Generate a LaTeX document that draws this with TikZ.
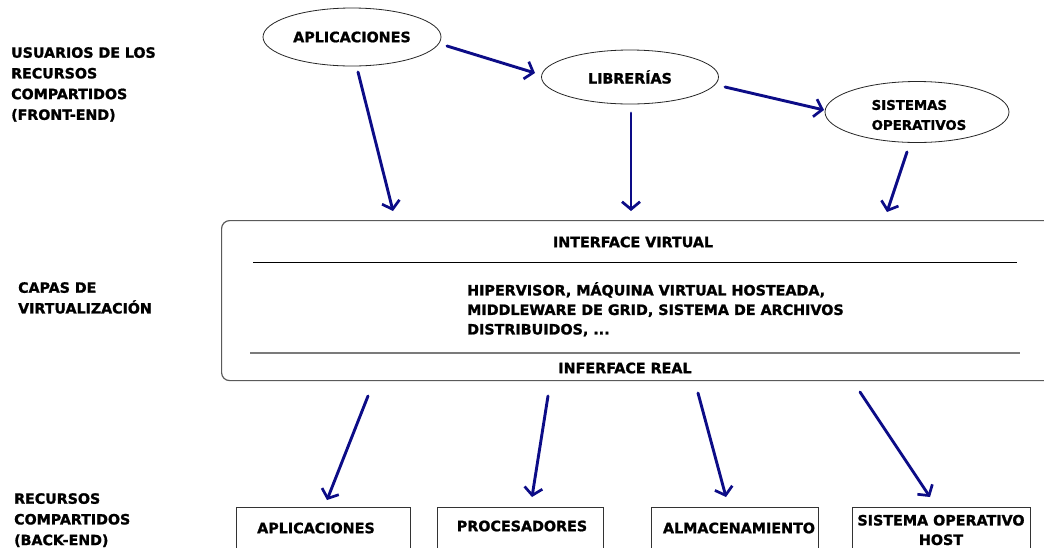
\documentclass[tikz,border=0pt]{standalone}
\usepackage{fontspec}
\setmainfont{DejaVu Sans}[BoldFeatures={FakeBold=1.3}]
\usetikzlibrary{arrows.meta,shapes.geometric}
\definecolor{flowblue}{RGB}{12,12,135}
\definecolor{edgegray}{RGB}{90,90,90}

\begin{document}
\begin{tikzpicture}[x=1pt,y=-1pt,
  heading/.style={font=\fontsize{14.2}{20.7}\selectfont\bfseries, inner sep=0pt, align=left, anchor=north west},
  body/.style={font=\fontsize{14.3}{19.5}\selectfont\bfseries, inner sep=0pt},
  oval/.style={ellipse, draw=black!85, line width=0.8pt, inner sep=0pt,
    font=\fontsize{14.3}{20}\selectfont\bfseries},
  layerbox/.style={draw=edgegray, line width=1.2pt, rounded corners=8pt, anchor=north west, inner sep=0pt},
  resbox/.style={draw=black!80, line width=0.9pt, anchor=north west, inner sep=0pt},
  flow/.style={draw=flowblue, line width=2.9pt, line cap=round,
    -{Straight Barb[length=7.5pt,width=18pt,line width=2.7pt]}}
]
\useasboundingbox (0,0) rectangle (1044,547);
\clip (0,0) rectangle (1044,547);
\fill[white] (0,0) rectangle (1044,547);

% row titles on the left
\node[heading] (front) at (11,47) {USUARIOS DE LOS\\RECURSOS\\COMPARTIDOS\\(FRONT-END)};
\node[heading] (virtual) at (18,282) {CAPAS DE\\VIRTUALIZACIÓN};
\node[heading] (back) at (14,493) {RECURSOS\\COMPARTIDOS\\(BACK-END)};

% front-end consumers
\node[oval, minimum width=178pt, minimum height=58pt] (apl) at (352,37) {APLICACIONES};
\node[oval, minimum width=177pt, minimum height=54pt] (lib) at (630,77) {LIBRERÍAS};
\node[oval, minimum width=184pt, minimum height=61pt] (sos) at (917,112) {};
\node[align=left, inner sep=0pt, font=\fontsize{13.3}{20}\selectfont\bfseries]
  (sostext) at (919,115) {SISTEMAS\\OPERATIVOS};

% virtualization layer
\node[layerbox, minimum width=860pt, minimum height=160pt] (layer) at (221,220) {};
\node[body] (vif) at (633,242) {INTERFACE VIRTUAL};
\draw[black, line width=1pt] (253,262) -- (1017,262);
\node[body, align=left, anchor=north west] (mid) at (467,282)
  {HIPERVISOR, MÁQUINA VIRTUAL HOSTEADA,\\MIDDLEWARE DE GRID, SISTEMA DE ARCHIVOS\\DISTRIBUIDOS, ...};
\draw[edgegray!80, line width=1.6pt] (250,353) -- (1020,353);
\node[body] (rif) at (625,368) {INFERFACE REAL};

% back-end resources
\node[resbox, minimum width=174pt, minimum height=60pt] (r1) at (236,507) {};
\node[body] at (316,528) {APLICACIONES};
\node[resbox, minimum width=166pt, minimum height=60pt] (r2) at (437,507) {};
\node[body] at (522,526) {PROCESADORES};
\node[resbox, minimum width=167pt, minimum height=60pt] (r3) at (651,507) {};
\node[body] at (739,528) {ALMACENAMIENTO};
\node[resbox, minimum width=178pt, minimum height=60pt] (r4) at (852,507) {};
\node[body, align=center] at (941,530) {SISTEMA OPERATIVO\\HOST};

% arrow end points
\coordinate (aplR) at (447,46);  \coordinate (libL) at (535,73);
\coordinate (libR) at (725,87);  \coordinate (sosL) at (824,110);
\coordinate (aplB) at (358,72);  \coordinate (inA) at (393,211);
\coordinate (libB) at (631,113); \coordinate (inB) at (631,211);
\coordinate (sosB) at (907,152); \coordinate (inC) at (887,212);
\coordinate (outA) at (368,396); \coordinate (r1T) at (327,500);
\coordinate (outB) at (548,396); \coordinate (r2T) at (532,497);
\coordinate (outC) at (698,393); \coordinate (r3T) at (726,497);
\coordinate (outD) at (860,392); \coordinate (r4T) at (930,497);

% connectors
\draw[flow] (aplR) -- (libL);
\draw[flow] (libR) -- (sosL);
\draw[flow] (aplB) -- (inA);
\draw[flow] (libB) -- (inB);
\draw[flow] (sosB) -- (inC);
\draw[flow] (outA) -- (r1T);
\draw[flow] (outB) -- (r2T);
\draw[flow] (outC) -- (r3T);
\draw[flow] (outD) -- (r4T);
\end{tikzpicture}
\end{document}
